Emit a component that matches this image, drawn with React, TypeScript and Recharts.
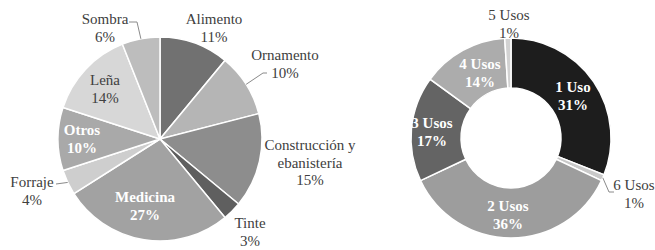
import { PieChart, Pie, Cell } from 'recharts';

// Categorías de uso (pastel izquierdo), en sentido horario desde arriba
const usoNames = ['Alimento', 'Ornamento', 'Construcción y ebanistería', 'Tinte', 'Medicina', 'Forraje', 'Otros', 'Leña', 'Sombra'];
const usoValues = [11, 10, 15, 3, 27, 4, 10, 14, 6];
const usoColors = ['#717171', '#b5b5b5', '#8d8d8d', '#5f5f5f', '#a2a2a2', '#cecece', '#a9a9a9', '#d7d7d7', '#bdbdbd'];

// Número de usos (dona derecha)
const nUsosNames = ['1 Uso', '6 Usos', '2 Usos', '3 Usos', '4 Usos', '5 Usos'];
const nUsosValues = [31, 1, 36, 17, 14, 1];
const nUsosColors = ['#1d1d1d', '#c9c9c9', '#9d9d9d', '#646464', '#acacac', '#d2d2d2'];

const usoData = usoNames.map((name, i) => ({ name, value: usoValues[i] }));
const nUsosData = nUsosNames.map((name, i) => ({ name, value: nUsosValues[i] }));

const FONT = "'Liberation Serif', serif";
const FONT_SIZE = 15;
const LINE_H = 17.5;
const RADIAN = Math.PI / 180;

type Spot = { dx: number; dy: number; inside?: boolean; bold?: boolean; lines?: string[]; leader?: [number, number][] };

// label placement relative to the pie centre (first text line centre)
const leftSpots: Record<string, Spot> = {
  Alimento: { dx: 54, dy: -120 },
  Ornamento: { dx: 125, dy: -84, leader: [[103, -66], [107, -66]] },
  'Construcción y ebanistería': { dx: 150, dy: 6, lines: ['Construcción y', 'ebanistería'] },
  Tinte: { dx: 90, dy: 84 },
  Medicina: { dx: -15, dy: 58, inside: true, bold: true },
  Forraje: { dx: -128, dy: 43, leader: [[-104, 45]] },
  Otros: { dx: -78, dy: -9, inside: true, bold: true },
  'Leña': { dx: -55, dy: -59 },
  Sombra: { dx: -55, dy: -120, leader: [[-23, -117], [-31, -117]] },
};

const rightSpots: Record<string, Spot> = {
  '1 Uso': { dx: 62, dy: -51, inside: true, bold: true },
  '6 Usos': { dx: 123, dy: 47, leader: [[98, 54], [103, 54]] },
  '2 Usos': { dx: -3, dy: 68, inside: true, bold: true },
  '3 Usos': { dx: -79, dy: -15, inside: true, bold: true },
  '4 Usos': { dx: -31, dy: -74, inside: true, bold: true },
  '5 Usos': { dx: -2, dy: -123 },
};

function makeLabel(spots: Record<string, Spot>) {
  return (props: any) => {
    const { cx, cy, midAngle, outerRadius, value } = props;
    const name = props.payload?.name ?? props.name;
    const spot = spots[name];
    if (!spot) return null;
    const lines = [...(spot.lines ?? [name]), `${value}%`];
    const x = cx + spot.dx;
    const y0 = cy + spot.dy;
    let leader = null;
    if (spot.leader) {
      const ex = cx + outerRadius * Math.cos(-midAngle * RADIAN);
      const ey = cy + outerRadius * Math.sin(-midAngle * RADIAN);
      const pts = [[ex, ey], ...spot.leader.map(([a, b]) => [cx + a, cy + b])];
      leader = <polyline points={pts.map((p) => p.join(',')).join(' ')} fill="none" stroke="#8a8a8a" strokeWidth={1} />;
    }
    const fill = spot.inside ? '#ffffff' : '#404040';
    return (
      <g>
        {leader}
        {lines.map((l, i) => (
          <text
            key={i}
            x={x}
            y={y0 + i * LINE_H + 5}
            textAnchor="middle"
            fontFamily="Liberation Serif"
            fontSize={FONT_SIZE}
            fill={fill}
            style={{ fontFamily: FONT, fontSize: FONT_SIZE, fontWeight: spot.bold ? 700 : 400 }}
          >
            {l}
          </text>
        ))}
      </g>
    );
  };
}

export default function App() {
  return (
    <div style={{ position: 'absolute', left: 0, top: 0, width: 655, height: 250, background: '#ffffff' }}>
      <PieChart width={655} height={250} margin={{ top: 0, right: 0, bottom: 0, left: 0 }}>
        <Pie
          data={usoData}
          dataKey="value"
          nameKey="name"
          cx={160}
          cy={139}
          outerRadius={102}
          startAngle={90}
          endAngle={-270}
          stroke="#ffffff"
          strokeWidth={1.5}
          label={makeLabel(leftSpots)}
          labelLine={false}
          isAnimationActive={false}
        >
          {usoData.map((d, i) => (
            <Cell key={d.name} fill={usoColors[i]} />
          ))}
        </Pie>
        <Pie
          data={nUsosData}
          dataKey="value"
          nameKey="name"
          cx={511}
          cy={138}
          innerRadius={50}
          outerRadius={100}
          startAngle={90}
          endAngle={-270}
          stroke="#ffffff"
          strokeWidth={1.5}
          label={makeLabel(rightSpots)}
          labelLine={false}
          isAnimationActive={false}
        >
          {nUsosData.map((d, i) => (
            <Cell key={d.name} fill={nUsosColors[i]} />
          ))}
        </Pie>
      </PieChart>
    </div>
  );
}
